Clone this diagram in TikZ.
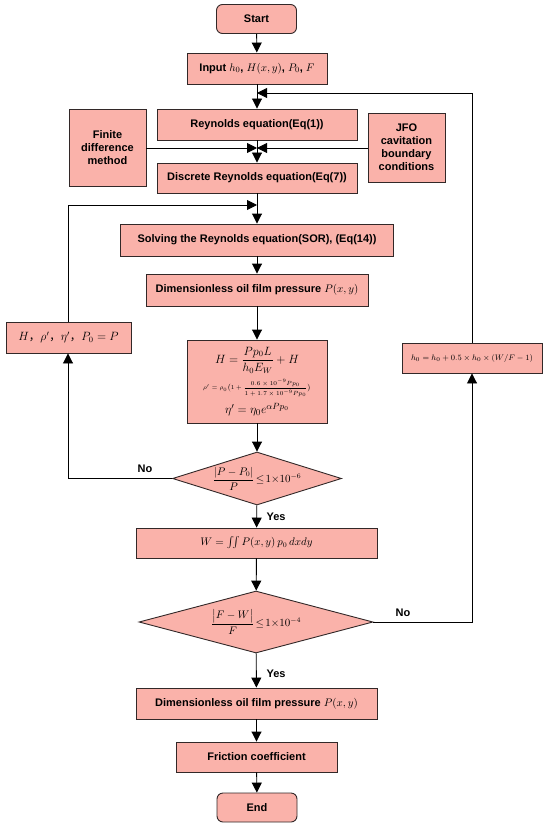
\documentclass[tikz,border=0pt]{standalone}
\usepackage{amsmath}
\usepackage{fontspec}
\setmainfont{Liberation Sans}
\newfontfamily\cjk{Noto Sans CJK SC}
\usetikzlibrary{shapes.geometric,arrows.meta}
\definecolor{boxfill}{RGB}{250,178,170}
\definecolor{boxline}{RGB}{50,40,40}
\tikzset{
  box/.style={draw=boxline,fill=boxfill,line width=0.9pt,inner sep=1pt,align=center,
    font=\fontsize{11}{13}\selectfont\bfseries},
  term/.style={box,rounded corners=6pt},
  dec/.style={draw=boxline,fill=boxfill,line width=0.9pt,diamond,inner sep=0pt},
  arr/.style={line width=0.9pt,-{Triangle[width=10pt,length=10pt]}},
  lbl/.style={font=\fontsize{11}{13}\selectfont\bfseries}
}
\begin{document}
\begin{tikzpicture}[x=1pt,y=-1pt]
\useasboundingbox (0,0) rectangle (550,829);
\node[term,minimum width=80pt,minimum height=29pt] (start) at (256.5,19) {Start};
\node[box,minimum width=140pt,minimum height=31pt] (input) at (257,68.5) {Input $h_0$, $H(x,y)$, $P_0$, $F$};
\node[box,minimum width=200pt,minimum height=31pt] (reyn) at (257,124.5) {Reynolds equation(Eq(1))};
\node[box,minimum width=77pt,minimum height=77pt] (fd) at (107.5,147.5) {Finite\\difference\\method};
\node[box,minimum width=77pt,minimum height=69pt] (jfo) at (406.5,147.5) {JFO\\cavitation\\boundary\\conditions};
\node[box,minimum width=200pt,minimum height=30pt] (disc) at (257,178) {Discrete Reynolds equation(Eq(7))};
\node[box,minimum width=273pt,minimum height=32pt] (solve) at (257,240) {Solving the Reynolds equation(SOR), (Eq(14))};
\node[box,minimum width=222pt,minimum height=32pt] (dim1) at (257,290) {Dimensionless oil film pressure $P(x,y)$};
\node[box,minimum width=125pt,minimum height=31pt,font=\fontsize{11.5}{13}\selectfont] (lb) at (68.5,337.5)
  {$H${\cjk ，}$\rho'${\cjk ，}$\eta'${\cjk ，}$P_0=P$};
\node[box,minimum width=140pt,minimum height=83pt,font=\normalfont] (form) at (257,381.5)
  {\fontsize{11.5}{13}\selectfont$H=\dfrac{Pp_0L}{h_0E_W}+H$\\[5pt]
   \fontsize{6.5}{8}\selectfont$\rho'=\rho_0\bigl(1+\dfrac{0.6\times10^{-9}Pp_0}{1+1.7\times10^{-9}Pp_0}\bigr)$\\[6pt]
   \fontsize{12.5}{14}\selectfont$\eta'=\eta_0e^{\alpha Pp_0}$};
\node[dec,minimum width=169pt,minimum height=53pt,aspect=3.2] (d1) at (257,478.5)
  {\fontsize{10.5}{12}\selectfont$\dfrac{|P-P_0|}{P}\!\le\!1{\times}10^{-6}$};
\node[box,minimum width=241pt,minimum height=30pt,font=\fontsize{10.5}{12}\selectfont] (wbox) at (256.5,543)
  {$W=\iint P(x,y)\,p_0\,dxdy$};
\node[dec,minimum width=234pt,minimum height=62pt,aspect=3.8] (d2) at (256,622)
  {\fontsize{10.5}{12}\selectfont$\dfrac{\bigl|F-W\bigr|}{F}\!\le\!1{\times}10^{-4}$};
\node[box,minimum width=140pt,minimum height=30pt,font=\fontsize{8.5}{10}\selectfont] (h0) at (472,358)
  {$h_0=h_0+0.5\times h_0\times(W/F-1)$};
\node[box,minimum width=241pt,minimum height=31pt] (dim2) at (256.5,703.5) {Dimensionless oil film pressure $P(x,y)$};
\node[box,minimum width=161pt,minimum height=30pt] (fric) at (256.5,757) {Friction coefficient};
\node[term,minimum width=80pt,minimum height=29pt] (end) at (257,807.5) {End};
\coordinate (jfd) at (257,148);
\coordinate (j1) at (257,205);
\coordinate (j2) at (257,93);
\draw[arr] (start) -- (input);
\draw[arr] (input) -- (reyn);
\draw[arr] (reyn) -- (disc);
\draw[arr] (fd.east |- jfd) -- (jfd);
\draw[arr] (jfo.west |- jfd) -- (jfd);
\draw[arr] (disc) -- (solve);
\draw[arr] (lb.north -| 68,0) |- (j1);
\draw[arr] (solve) -- (dim1);
\draw[arr] (dim1) -- (form);
\draw[arr] (form) -- (d1);
\draw[arr] (d1.west) -| (lb.south -| 68,0);
\node[lbl] (no1) at (145,469) {No};
\draw[arr] (d1) -- (wbox);
\node[lbl] (yes1) at (276,517) {Yes};
\draw[arr] (wbox) -- (d2);
\draw[arr] (d2.east) -| (h0.south);
\node[lbl] (no2) at (403,613) {No};
\draw[arr] (h0.north) |- (j2);
\draw[arr] (d2) -- (dim2);
\node[lbl] (yes2) at (276,674) {Yes};
\draw[arr] (dim2) -- (fric);
\draw[arr] (fric) -- (end);
\end{tikzpicture}
\end{document}
